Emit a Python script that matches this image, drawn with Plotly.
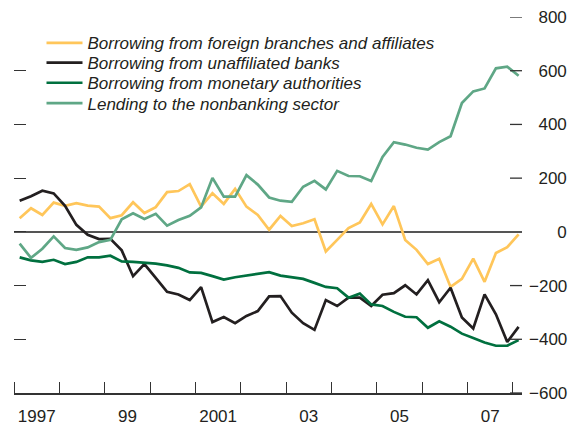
import plotly.graph_objects as go

start_year = 1997
n_quarters = 45  # 1997Q1 .. 2008Q1

foreign_branches = [51, 88, 63, 109, 97, 107, 98, 94, 51, 62, 110, 70,
                    92, 148, 152, 178, 94, 144, 104, 160, 94, 63, 8, 59,
                    22, 32, 47, -73, -30, 14, 35, 104, 28, 96, -30, -67,
                    -120, -100, -205, -175, -100, -186, -79, -57, -9]
unaffiliated_banks = [116, 133, 153, 143, 97, 26, -11, -27, -26, -69, -165, -120,
                      -171, -223, -233, -254, -206, -336, -317, -340, -313, -295, -240, -239,
                      -301, -340, -365, -254, -276, -245, -245, -276, -234, -228, -199, -233,
                      -180, -262, -208, -319, -360, -233, -307, -410, -354]
monetary_authorities = [-95, -106, -112, -104, -120, -112, -95, -95, -89, -110, -112, -116,
                        -118, -125, -134, -151, -153, -165, -178, -169, -162, -155, -150, -163,
                        -168, -175, -190, -205, -210, -245, -230, -270, -276, -298, -316, -318,
                        -357, -333, -353, -379, -395, -412, -424, -424, -403]
nonbanking_lending = [-44, -97, -63, -17, -60, -67, -58, -38, -30, 47, 69, 48,
                      67, 23, 44, 60, 91, 201, 131, 131, 211, 176, 128, 116,
                      112, 168, 190, 158, 227, 208, 207, 189, 279, 334, 325, 313,
                      306, 334, 356, 480, 523, 534, 609, 615, 581]

series_names = ["Borrowing from foreign branches and affiliates",
                "Borrowing from unaffiliated banks",
                "Borrowing from monetary authorities",
                "Lending to the nonbanking sector"]
series_colors = ["#FFC65A", "#231F20", "#00703F", "#5FA786"]

year_ticks = list(range(1997, 2009))
label_years = [1997, 1999, 2001, 2003, 2005, 2007]
label_text = ["1997", "99", "2001", "03", "05", "07"]
y_ticks = list(range(-600, 801, 200))


def right_label(v):
    # pad so labels line up on their right edge
    if v < 0:
        return "\u2212" + str(-v)
    if v == 0:
        return "\u2007\u2007\u2007" + "0"
    return "\u2007" + str(v)


x = [start_year + (i + 0.5) / 4 for i in range(n_quarters)]

FONT = "Liberation Sans, Arial, sans-serif"
TXT = "#231F20"

fig = go.Figure()
all_series = [foreign_branches, unaffiliated_banks, monetary_authorities, nonbanking_lending]
legend_ids = ["legend", "legend2", "legend3", "legend4"]
for vals, name, col, lg in zip(all_series, series_names, series_colors, legend_ids):
    fig.add_trace(go.Scatter(x=x, y=vals, mode="lines", name=name,
                             line=dict(color=col, width=2.7), legend=lg))

# invisible trace so the right axis is drawn
fig.add_trace(go.Scatter(x=[x[0]], y=[0], yaxis="y2", mode="markers",
                         marker=dict(opacity=0), showlegend=False, hoverinfo="skip"))

plot_l, plot_r = 14, 522
W, H = 571, 428
plot_t, plot_b = 17, 393
paper_w = plot_r - plot_l
paper_h = plot_b - plot_t

row_px = [43.3, 63.0, 83.2, 103.5]
legend_x = (41.5 - plot_l) / paper_w

layout_legends = {}
for lg, py in zip(legend_ids, row_px):
    layout_legends[lg] = dict(x=legend_x, y=(plot_b - py) / paper_h, xanchor="left", yanchor="middle",
                              bgcolor="rgba(0,0,0,0)", borderwidth=0, itemwidth=36,
                              font=dict(family=FONT, size=17, color=TXT, style="italic"),
                              tracegroupgap=0)

# right-hand tick marks, placed at the y tick values (inside the plot edge)
tick_len_frac = 12 / paper_w
right_tick_shapes = [dict(type="line", xref="x domain", yref="y",
                          x0=1 - tick_len_frac, x1=1, y0=v, y1=v,
                          line=dict(color="#333333", width=1.3), layer="above")
                     for v in y_ticks if v != 0]

fig.update_layout(
    width=W, height=H,
    margin=dict(l=plot_l, r=W - plot_r, t=plot_t, b=H - plot_b, pad=0, autoexpand=False),
    paper_bgcolor="white", plot_bgcolor="white",
    showlegend=True,
    font=dict(family=FONT, size=17, color=TXT),
    shapes=right_tick_shapes,
    xaxis=dict(range=[1997, 2008.2], showgrid=False, zeroline=False, automargin=False,
               showline=True, linecolor="#333333", linewidth=1.5,
               tickvals=[y + 0.5 for y in label_years], ticktext=label_text, ticks="",
               ticklabelstandoff=7,
               minor=dict(tickvals=year_ticks, ticks="inside", ticklen=11, tickwidth=1.3,
                          tickcolor="#333333", showgrid=False),
               tickfont=dict(family=FONT, size=17, color=TXT), fixedrange=True),
    yaxis=dict(range=[-600, 800], showgrid=False, zeroline=True, zerolinecolor="#555555",
               zerolinewidth=1.5, showline=False, tickvals=y_ticks, ticks="inside", ticklen=12,
               tickwidth=1.3, tickcolor="#333333", showticklabels=False,
               automargin=False, fixedrange=True),
    yaxis2=dict(range=[-600, 800], overlaying="y", anchor="x", side="right",
                showgrid=False, zeroline=False, showline=False, tickvals=y_ticks,
                ticktext=[right_label(v) for v in y_ticks],
                ticks="", ticklabelstandoff=6, automargin=False,
                tickfont=dict(family=FONT, size=17, color=TXT), fixedrange=True),
    **layout_legends,
)

fig.write_html("out.html", config={"displayModeBar": False},
               post_script="document.body.style.margin='0';document.body.style.overflow='hidden';")
